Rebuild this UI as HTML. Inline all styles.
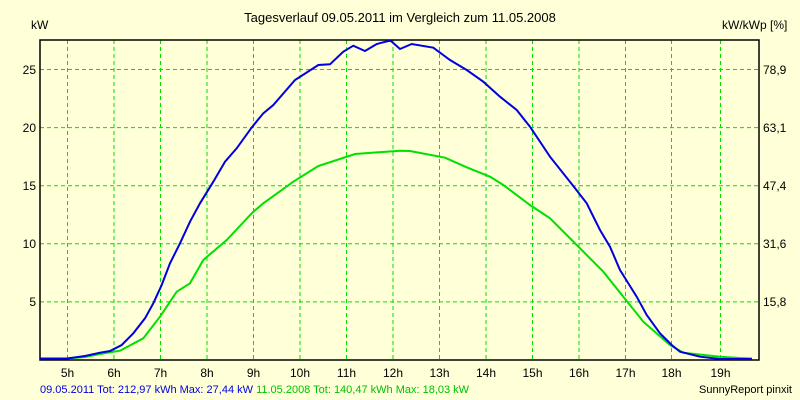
<!DOCTYPE html><html><head><style>body{margin:0;background:#ffffd8}svg{display:block;font-family:"Liberation Sans",sans-serif}</style></head><body>
<svg width="800" height="400" xmlns="http://www.w3.org/2000/svg">
<rect width="800" height="400" fill="#ffffd8"/>
<text x="400" y="22" font-size="13" text-anchor="middle">Tagesverlauf 09.05.2011 im Vergleich zum 11.05.2008</text>
<text x="31" y="29" font-size="12">kW</text>
<text x="722" y="29" font-size="12">kW/kWp [%]</text>
<g stroke="#00e000" stroke-dasharray="4,3" stroke-width="1">
<line x1="67.5" y1="40" x2="67.5" y2="360"/><line x1="114" y1="40" x2="114" y2="360"/><line x1="160.5" y1="40" x2="160.5" y2="360"/><line x1="207" y1="40" x2="207" y2="360"/><line x1="253.5" y1="40" x2="253.5" y2="360"/><line x1="300" y1="40" x2="300" y2="360"/><line x1="346.5" y1="40" x2="346.5" y2="360"/><line x1="393" y1="40" x2="393" y2="360"/><line x1="439.5" y1="40" x2="439.5" y2="360"/><line x1="486" y1="40" x2="486" y2="360"/><line x1="532.5" y1="40" x2="532.5" y2="360"/><line x1="579" y1="40" x2="579" y2="360"/><line x1="625.5" y1="40" x2="625.5" y2="360"/><line x1="671.5" y1="40" x2="671.5" y2="360"/><line x1="720.5" y1="40" x2="720.5" y2="360"/>
<line x1="40" y1="69.5" x2="759" y2="69.5"/><line x1="40" y1="127.6" x2="759" y2="127.6"/><line x1="40" y1="185.7" x2="759" y2="185.7"/><line x1="40" y1="243.8" x2="759" y2="243.8"/><line x1="40" y1="301.9" x2="759" y2="301.9"/>
</g>
<rect x="40" y="40" width="719" height="320" fill="none" stroke="#000" stroke-width="1.5"/>
<g font-size="12" text-anchor="end"><text x="36" y="74">25</text><text x="36" y="132">20</text><text x="36" y="190">15</text><text x="36" y="248">10</text><text x="36" y="306">5</text></g>
<g font-size="12"><text x="763" y="74">78,9</text><text x="763" y="132">63,1</text><text x="763" y="190">47,4</text><text x="763" y="248">31,6</text><text x="763" y="306">15,8</text></g>
<g font-size="12" text-anchor="middle"><text x="67.5" y="377">5h</text><text x="114" y="377">6h</text><text x="160.5" y="377">7h</text><text x="207" y="377">8h</text><text x="253.5" y="377">9h</text><text x="300" y="377">10h</text><text x="346.5" y="377">11h</text><text x="393" y="377">12h</text><text x="439.5" y="377">13h</text><text x="486" y="377">14h</text><text x="532.5" y="377">15h</text><text x="579" y="377">16h</text><text x="625.5" y="377">17h</text><text x="671.5" y="377">18h</text><text x="720.5" y="377">19h</text></g>
<polyline fill="none" stroke="#00e000" stroke-width="2" points="40,358.5 67,358.5 85,357 100,354 120,350.7 143.3,338.3 160,316.7 176.7,291.7 190,283.3 203.3,260 226.7,240 252.3,212.7 263.3,203.3 293.3,181.7 318.3,166 355,154 400,150.7 410,151 445,157.7 466.7,167.3 490,176.7 503.3,185 530,205 550,218.3 576.7,245 603.3,271.7 623.3,296.7 643.3,321.7 670,345 683.3,352.7 720,356.7 740,358 752,358.5"/>
<polyline fill="none" stroke="#0000e0" stroke-width="2" points="40,358.5 67,358.5 85,356 100,352.7 110,351 121.7,345 133.3,333.3 145,318.3 153.3,303.3 161.7,285 170,263.3 180,243.3 190,221.7 200,203.3 213.3,181.7 225,161.7 236.7,148.3 252.3,126.7 263.3,113.3 273.3,105 295,80 318.3,65 330,64.3 343.3,51.7 353.3,45.7 365,51 376.7,44 388.3,41 391,41 400,49 411.7,44 433.3,47.7 450,60 466.7,70 483.3,81.7 500,96.7 516.7,110 530,126.7 550,156.7 573.3,186 586.7,203.3 600,230 610,246.7 620,270 636.7,296.7 646.7,315 660,333.3 671.7,345 680,351.7 700,356.7 720,359 752,359"/>
<text x="40" y="393" font-size="11" fill="#0000e0">09.05.2011 Tot: 212,97 kWh Max: 27,44 kW <tspan fill="#00c000">11.05.2008 Tot: 140,47 kWh Max: 18,03 kW</tspan></text>
<text x="792" y="393" font-size="11" text-anchor="end">SunnyReport pinxit</text>
</svg></body></html>
